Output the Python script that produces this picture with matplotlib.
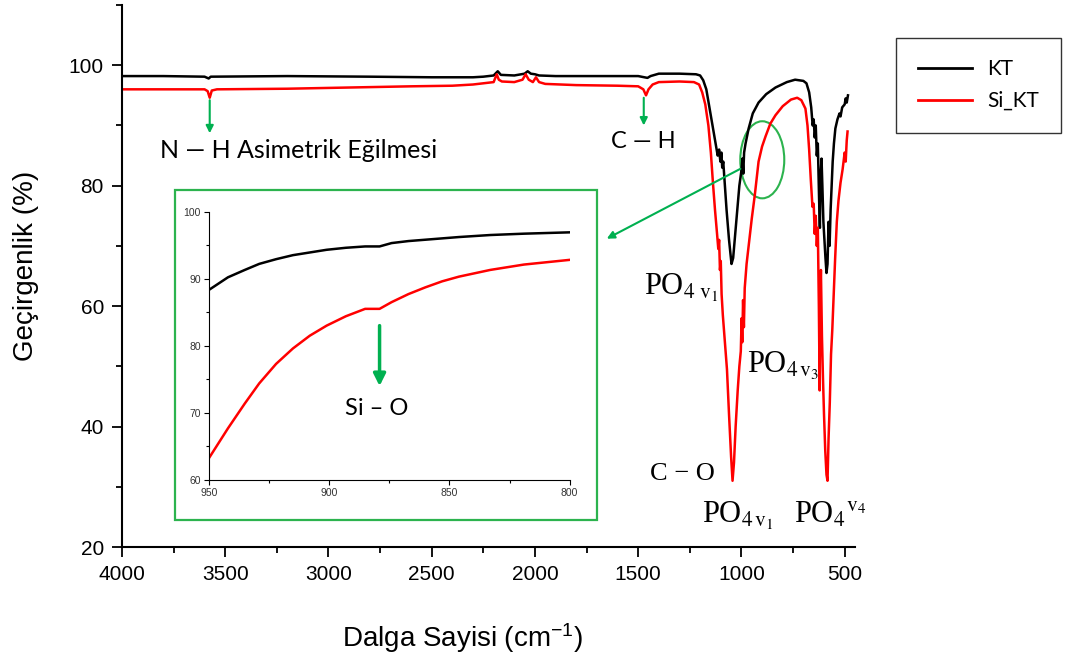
import numpy as np
import matplotlib
matplotlib.use("Agg")
import matplotlib.pyplot as plt
from matplotlib.patches import Ellipse, Rectangle
from matplotlib.ticker import MultipleLocator

plt.rcParams["font.family"] = ["Liberation Sans", "DejaVu Sans"]
plt.rcParams["mathtext.fontset"] = "custom"
plt.rcParams["mathtext.rm"] = "Liberation Sans"
plt.rcParams["mathtext.it"] = "Liberation Sans:italic"

# --- main spectrum (wavenumber cm-1, transmittance %) ---
kt_wn = [4000, 3800, 3600, 3580, 3570, 3200, 2800, 2500, 2300, 2250, 2200, 2180, 2165,
         2100, 2050, 2035, 2020, 2000, 1980, 1900, 1700, 1500, 1470, 1455, 1440, 1400,
         1300, 1220, 1200, 1185, 1170, 1155, 1140, 1125, 1115, 1108, 1102, 1097, 1093,
         1088, 1080, 1072, 1060, 1048, 1040, 1030, 1020, 1010, 1000, 995, 991, 987, 980,
         965, 945, 917, 880, 835, 780, 740, 700, 685, 672, 662, 655, 650, 645, 640, 635,
         630, 624, 620, 616, 612, 608, 603, 598, 593, 588, 583, 578, 573, 568, 563, 558,
         552, 545, 535, 525, 520, 512, 500, 495, 490, 484]
kt_t = [98.2, 98.2, 98.1, 97.8, 98.1, 98.2, 98.1, 98.0, 98.0, 98.1, 98.3, 99.0, 98.4,
        98.3, 98.6, 99.0, 98.6, 98.5, 98.3, 98.2, 98.2, 98.2, 98.0, 97.9, 98.2, 98.6,
        98.6, 98.5, 98.3, 97.5, 96.0, 93.0, 90.0, 87.0, 85.0, 86.0, 84.0, 85.5, 83.0,
        84.0, 80.0, 76.0, 71.0, 67.0, 68.0, 72.0, 76.0, 80.0, 82.5, 84.5, 82.0, 85.5, 87.0,
        89.5, 92.0, 93.8, 95.2, 96.3, 97.2, 97.6, 97.4, 97.0, 95.5, 93.0, 90.0, 91.0, 88.0,
        90.0, 85.0, 87.0, 78.0, 73.0, 82.0, 84.5, 80.0, 74.0, 71.0, 68.0, 65.5, 67.0, 74.0,
        70.0, 76.0, 80.0, 84.0, 87.0, 89.5, 91.0, 92.0, 91.5, 93.0, 93.5, 94.5, 93.8, 95.0]

sikt_wn = [4000, 3800, 3600, 3585, 3575, 3565, 3540, 3200, 2900, 2600, 2400, 2300, 2250,
           2200, 2185, 2175, 2160, 2100, 2060, 2045, 2030, 2010, 1995, 1980, 1950, 1800,
           1600, 1500, 1475, 1462, 1450, 1430, 1400, 1300, 1230, 1205, 1190, 1175, 1160,
           1148, 1138, 1128, 1118, 1112, 1108, 1104, 1100, 1096, 1090, 1080, 1070, 1060,
           1050, 1043, 1036, 1028, 1018, 1010, 1003, 999, 996, 992, 988, 984, 975, 965, 950,
           935, 917, 900, 883, 860, 835, 800, 760, 730, 710, 690, 680, 672, 664, 656, 650,
           645, 640, 635, 630, 625, 621, 618, 615, 610, 605, 600, 594, 588, 583, 578, 572,
           566, 560, 553, 546, 538, 530, 520, 510, 500, 495, 490, 486]
sikt_t = [96.0, 96.0, 96.0, 95.7, 94.6, 95.8, 96.0, 96.1, 96.3, 96.5, 96.6, 96.8, 97.0,
          97.2, 98.5, 97.6, 97.3, 97.2, 97.6, 98.5, 97.6, 97.2, 98.0, 97.2, 96.9, 96.7,
          96.6, 96.5, 96.0, 95.0, 96.0, 96.8, 97.2, 97.3, 97.2, 96.8, 95.5, 93.5, 90.0,
          85.5, 80.5, 76.0, 72.0, 69.5, 71.0, 66.0, 67.5, 62.0, 58.5, 54.0, 49.5, 42.0,
          35.0, 31.0, 34.0, 40.0, 46.0, 50.0, 52.5, 58.0, 54.0, 61.0, 56.5, 63.0, 67.0, 70.0,
          74.5, 78.5, 84.0, 86.5, 88.2, 90.3, 91.7, 93.2, 94.3, 94.6, 94.2, 92.8, 90.0, 86.0,
          81.0, 76.5, 77.0, 72.0, 75.0, 70.0, 73.0, 60.0, 46.0, 62.0, 66.0, 55.0, 48.0,
          42.0, 36.0, 32.0, 31.0, 38.0, 44.0, 52.0, 56.0, 62.0, 68.0, 74.0, 77.5, 80.5,
          82.7, 85.5, 84.0, 87.5, 89.0]

# --- inset (950-800 cm-1) ---
in_wn = [950, 942, 935, 929, 922, 915, 908, 901, 893, 885, 879, 874, 867, 860, 853, 846,
         833, 819, 800]
in_kt = [88.3, 90.2, 91.3, 92.2, 92.9, 93.5, 93.9, 94.3, 94.6, 94.8, 94.8, 95.3, 95.6,
         95.8, 96.0, 96.2, 96.5, 96.7, 96.9]
in_sikt = [63.2, 67.7, 71.4, 74.4, 77.3, 79.6, 81.5, 83.0, 84.4, 85.5, 85.5, 86.5, 87.7,
           88.7, 89.6, 90.3, 91.3, 92.1, 92.8]

GREEN = "#00b050"
BOX_GREEN = "#2cb34e"

fig = plt.figure(figsize=(10.67, 6.6), dpi=100)
ax = fig.add_axes([0.1143, 0.1712, 0.6870, 0.8212])

ax.plot(kt_wn, kt_t, color="black", lw=1.8, label="KT")
ax.plot(sikt_wn, sikt_t, color="red", lw=1.8, label="Si_KT")

ax.set_xlim(4000, 450)
ax.set_ylim(20, 110)
ax.xaxis.set_major_locator(MultipleLocator(500))
ax.xaxis.set_minor_locator(MultipleLocator(250))
ax.yaxis.set_major_locator(MultipleLocator(20))
ax.yaxis.set_minor_locator(MultipleLocator(10))
ax.tick_params(which="major", direction="out", length=7, width=1.3, labelsize=15, pad=6)
ax.tick_params(which="minor", direction="out", length=4, width=1.3)
for s in ["top", "right"]:
    ax.spines[s].set_visible(False)
for s in ["left", "bottom"]:
    ax.spines[s].set_linewidth(1.5)

ax.set_xlabel("Dalga Sayisi (cm$^{-1}$)", fontsize=20)
ax.set_ylabel("Geçirgenlik (%)", fontsize=20)
ax.xaxis.set_label_coords(0.465, -0.168)
ax.xaxis.label.set_va("center")
ax.yaxis.set_label_coords(-0.131, 0.518)
ax.yaxis.label.set_va("center")

# annotations
arrow = dict(arrowstyle="-|>", color=GREEN, lw=1.5, mutation_scale=11, shrinkA=0, shrinkB=0)
ann_font = ["Lato", "DejaVu Sans"]
ax.annotate("", xy=(3575, 88.7), xytext=(3575, 94.2), arrowprops=arrow)
ax.text(3816, 85.8, "N — H Asimetrik Eğilmesi", fontsize=18, family=ann_font,
        ha="left", va="center")
ax.annotate("", xy=(1473, 90.0), xytext=(1473, 94.6), arrowprops=arrow)
ax.text(1633, 87.3, "C — H", fontsize=17, family=ann_font, ha="left", va="center")

ax.add_patch(Ellipse((899, 84.3), 213, 12.8, fill=False, edgecolor=BOX_GREEN, lw=1.5))
ax.annotate("", xy=(1652, 71.2), xytext=(1005, 82.8), arrowprops=arrow)

serif = ["Liberation Serif", "DejaVu Serif"]
ax.text(1473, 61.8, r"PO$_{4\ \mathrm{v}_{1}}$", fontsize=22, family=serif,
        math_fontfamily="stix", ha="left", va="baseline")
ax.text(971, 49.0, r"PO$_{4\,\mathrm{v}_{3}}$", fontsize=22, family=serif,
        math_fontfamily="stix", ha="left", va="baseline")
ax.text(1444, 31.2, "C − O", fontsize=19, family=serif, ha="left", va="baseline")
ax.text(1193, 24.0, r"PO$_{4\,\mathrm{v}_{1}}$", fontsize=22, family=serif,
        math_fontfamily="stix", ha="left", va="baseline")
ax.text(744, 24.0, r"PO$_{4}{}^{\mathrm{v}_{4}}$", fontsize=22, family=serif,
        math_fontfamily="stix", ha="left", va="baseline")

# legend outside the plot
leg = fig.legend(loc="center", bbox_to_anchor=(0.917, 0.871), frameon=True, fancybox=False,
                 edgecolor="black", prop={"family": ann_font, "size": 15},
                 handlelength=2.6, handletextpad=0.7, borderpad=1.05, labelspacing=0.55,
                 borderaxespad=0)
leg.get_frame().set_linewidth(1.0)
for ln in leg.get_lines():
    ln.set_linewidth(2.0)

# inset frame + zoomed axes
fig.patches.append(Rectangle((0.164, 0.2121), 0.3955, 0.5, transform=fig.transFigure,
                             fill=False, edgecolor=BOX_GREEN, lw=1.6))
axin = fig.add_axes([0.1956, 0.2727, 0.3383, 0.4068])
axin.plot(in_wn, in_kt, color="black", lw=1.8)
axin.plot(in_wn, in_sikt, color="red", lw=1.8)
axin.set_xlim(950, 800)
axin.set_ylim(60, 100)
axin.xaxis.set_major_locator(MultipleLocator(50))
axin.xaxis.set_minor_locator(MultipleLocator(25))
axin.yaxis.set_major_locator(MultipleLocator(10))
axin.yaxis.set_minor_locator(MultipleLocator(5))
axin.tick_params(which="major", direction="out", length=3.5, width=0.8, labelsize=7.5,
                 labelcolor="#333333", pad=2)
axin.tick_params(which="minor", direction="out", length=2, width=0.8)
for s in ["top", "right"]:
    axin.spines[s].set_visible(False)
for s in ["left", "bottom"]:
    axin.spines[s].set_linewidth(0.8)
axin.annotate("", xy=(879, 74.0), xytext=(879, 83.0),
              arrowprops=dict(arrowstyle="-|>", color=GREEN, lw=2.5, mutation_scale=18,
                              shrinkA=0, shrinkB=0))
axin.text(880, 70.6, "Si – O", fontsize=17, family=ann_font, ha="center", va="center")

fig.savefig("out.png", dpi=100)
